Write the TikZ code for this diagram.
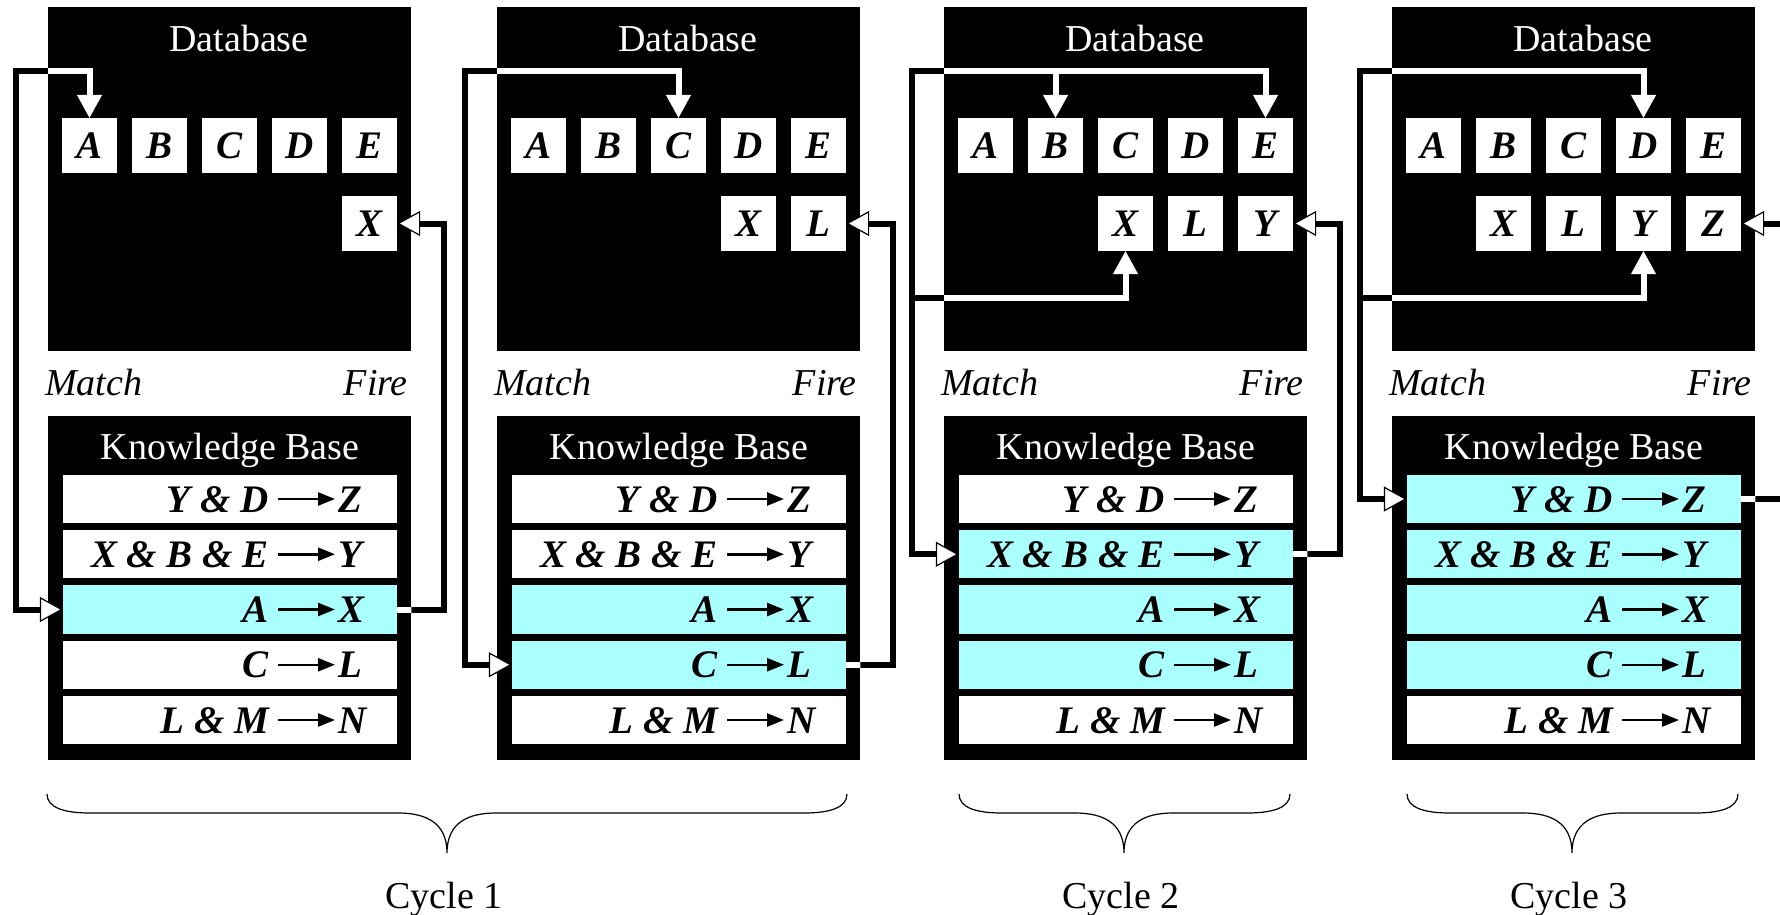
\documentclass[tikz,border=0pt]{standalone}
\usepackage{fontspec}
\setmainfont{Liberation Serif}
\usetikzlibrary{arrows.meta}
\definecolor{firedrule}{RGB}{170,255,255}
\tikzset{
  big/.style={font=\fontsize{38}{44}\selectfont},
  store/.style={fill=black, minimum width=363pt, minimum height=344pt,
    anchor=north west, inner sep=0pt},
  title/.style={text=white, inner sep=0pt, anchor=base, big},
  phase/.style={inner sep=0pt, font=\fontsize{38}{44}\selectfont\itshape},
  fact/.style={fill=white, minimum size=55pt, inner sep=0pt,
    font=\fontsize{39}{44}\selectfont\bfseries\itshape},
  rulebox/.style={fill=white, minimum width=334pt, minimum height=48pt, inner sep=0pt},
  ruletext/.style={inner sep=0pt, font=\fontsize{39}{44}\selectfont\bfseries\itshape},
  implies/.style={line width=2.5pt, -{Triangle[length=17pt,width=13pt]},
    shorten <=9pt, shorten >=3pt},
  wire/.style={line width=6pt},
  brace/.style={line width=1.2pt}
}
% black outside the box, white inside it
\newcommand{\wire}[3]{%
  \draw[wire,#2] #3;
  \begin{scope}
    \clip (#1.north west) rectangle (#1.south east);
    \draw[wire,#2,white] #3;
  \end{scope}}
\begin{document}
\begin{tikzpicture}[x=1pt, y=-1pt,
    >={Triangle[length=23pt,width=25pt,fill=white,line width=1.2pt]}]
  \clip (0,0) rectangle (1780,915);
  % Panels
  \foreach \p/\xo/\hot/\facts in {1/48/{3}/{5/X}, 2/497/{3,4}/{4/X,5/L},
      3/944/{2,3,4}/{3/X,4/L,5/Y}, 4/1392/{1,2,3,4}/{2/X,3/L,4/Y,5/Z}} {
    \begin{scope}[shift={(\xo,0)}]
      % Database
      \node[store] (db\p) at (0,7) {};
      \node[title] (dbt\p) at (191,52) {Database};
      \foreach \l [count=\j] in {A,B,C,D,E}
        \node[fact] (f\p\l) at ({41.5+70*(\j-1)},145.5) {\l};
      \foreach \j/\l in \facts
        \node[fact] (f\p\l) at ({41.5+70*(\j-1)},223.5) {\l};
      % Match / Fire
      \node[phase, anchor=base west] (match\p) at (-3,395) {Match};
      \node[phase, anchor=base east] (fire\p) at (360,395) {Fire};
      % Knowledge base
      \node[store] (kb\p) at (0,416) {};
      \node[title] (kbt\p) at (182,459) {Knowledge Base};
      \foreach \i in {1,...,5}
        \node[rulebox] (r\p-\i) at (182,{499+55.25*(\i-1)}) {};
      \foreach \i in \hot
        \fill[firedrule] (r\p-\i.north west) rectangle (r\p-\i.south east);
      \foreach \i/\lhs/\rhs in {1/{Y \& D}/Z, 2/{X \& B \& E}/Y, 3/A/X, 4/C/L, 5/{L \& M}/N} {
        \node[ruletext, anchor=base east] (lhs\p-\i) at (221,{512+55.25*(\i-1)}) {\lhs};
        \node[ruletext, anchor=base west] (rhs\p-\i) at (290,{512+55.25*(\i-1)}) {\rhs};
        \draw[implies] (r\p-\i.center -| lhs\p-\i.east) -- (r\p-\i.center -| rhs\p-\i.west);
      }
      \coordinate (m\p) at (-32,71.5);
      \coordinate (mb\p) at (-32,298);
      \coordinate (k\p) at (396,223.5);
    \end{scope}
  }
  % Cycle 1
  \wire{db1}{<->}{(f1A.north) |- (m1) |- (r1-3.west)}
  \wire{kb1}{->}{(r1-3.east) -| (k1) -- (f1X.east)}
  \wire{db2}{<->}{(f2C.north) |- (m2) |- (r2-4.west)}
  \wire{kb2}{->}{(r2-4.east) -| (k2) -- (f2L.east)}
  % Cycle 2
  \wire{db3}{<->}{(f3E.north) |- (m3) |- (r3-2.west)}
  \wire{db3}{<-}{(f3B.north) -- (f3B.north |- m3)}
  \wire{db3}{<-}{(f3X.south) |- (mb3)}
  \wire{kb3}{->}{(r3-2.east) -| (k3) -- (f3Y.east)}
  % Cycle 3
  \wire{db4}{<->}{(f4D.north) |- (m4) |- (r4-1.west)}
  \wire{db4}{<-}{(f4Y.south) |- (mb4)}
  \wire{kb4}{->}{(r4-1.east) -| (k4) -- (f4Z.east)}
  % Braces
  \foreach \c/\l/\t/\r in {1/47/447/847, 2/959/1124/1290, 3/1407/1572/1738} {
    \draw[brace] (\l,794) .. controls (\l,808) and ({\l+18},813) .. ({\l+43},813)
      -- ({\t-49},813) .. controls ({\t-22},813) and (\t,822) .. (\t,853)
      .. controls (\t,822) and ({\t+22},813) .. ({\t+49},813)
      -- ({\r-43},813) .. controls ({\r-18},813) and (\r,808) .. (\r,794);
    \node[big, anchor=base] (cycle\c) at ({\t-3},908) {Cycle \c};
  }
\end{tikzpicture}
\end{document}
